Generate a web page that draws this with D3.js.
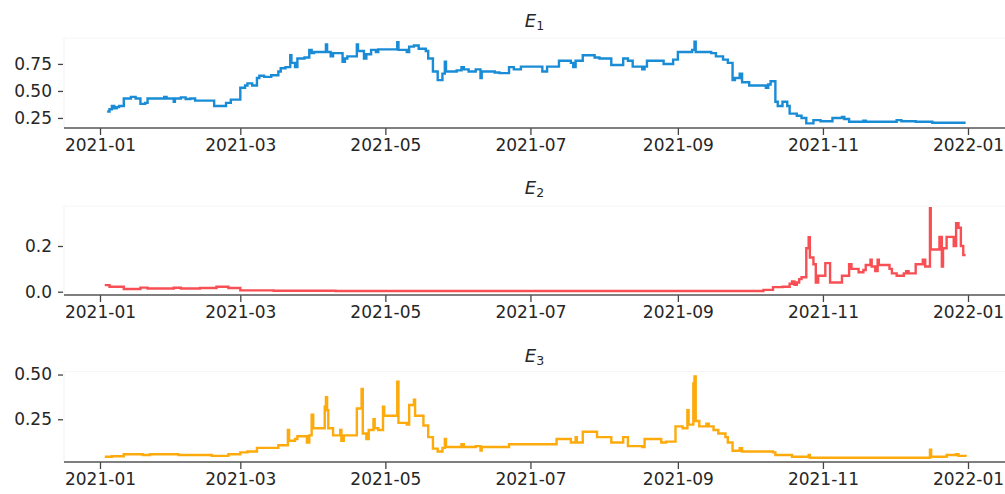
<!DOCTYPE html>
<html>
<head>
<meta charset="utf-8">
<script src="https://cdn.jsdelivr.net/npm/d3@7"></script>
<style>
  html, body { margin: 0; padding: 0; background: #fff; }
  svg { display: block; }
  text { font-family: "DejaVu Sans", sans-serif; fill: #262626; }
</style>
</head>
<body>
<svg id="chart" width="1005" height="494"></svg>
<script>
// Month labels shown along every time axis
const xTickLabels = ["2021-01", "2021-03", "2021-05", "2021-07", "2021-09", "2021-11", "2022-01"];

// E1 : [date (optionally with hour), value]
const e1 = [
  ["2021-01-04",0.31],["2021-01-05",0.33],["2021-01-06",0.36],["2021-01-07",0.34],["2021-01-08",0.35],
  ["2021-01-09",0.36],["2021-01-11",0.43],["2021-01-14",0.445],["2021-01-16",0.43],["2021-01-18",0.38],
  ["2021-01-20",0.39],["2021-01-21",0.43],["2021-01-28",0.445],["2021-01-29",0.43],["2021-02-01",0.40],
  ["2021-02-01 12",0.43],["2021-02-04",0.44],["2021-02-06",0.425],["2021-02-08",0.43],["2021-02-10",0.41],
  ["2021-02-18",0.36],["2021-02-23",0.39],["2021-02-25",0.42],["2021-03-01",0.53],["2021-03-03",0.55],
  ["2021-03-04",0.57],["2021-03-06",0.55],["2021-03-08",0.62],["2021-03-09",0.64],["2021-03-11",0.63],
  ["2021-03-14",0.645],["2021-03-17",0.68],["2021-03-18",0.71],["2021-03-20",0.72],["2021-03-22",0.83],
  ["2021-03-22 12",0.76],["2021-03-24",0.72],["2021-03-25",0.80],["2021-03-28",0.81],["2021-03-30",0.88],
  ["2021-03-31",0.85],["2021-04-01",0.86],["2021-04-06",0.93],["2021-04-06 12",0.86],["2021-04-08",0.82],
  ["2021-04-09",0.85],["2021-04-13",0.77],["2021-04-14",0.80],["2021-04-15",0.82],["2021-04-19",0.93],
  ["2021-04-19 12",0.87],["2021-04-22",0.80],["2021-04-23",0.84],["2021-04-25",0.88],["2021-04-27",0.86],
  ["2021-04-28",0.885],["2021-05-06",0.95],["2021-05-06 12",0.88],["2021-05-10",0.86],["2021-05-11",0.91],
  ["2021-05-13",0.92],["2021-05-15",0.89],["2021-05-18",0.87],["2021-05-19",0.80],["2021-05-21",0.68],
  ["2021-05-23",0.60],["2021-05-25",0.66],["2021-05-26",0.77],["2021-05-26 12",0.68],["2021-05-31",0.69],
  ["2021-06-02",0.72],["2021-06-03",0.70],["2021-06-05",0.68],["2021-06-08",0.70],["2021-06-10",0.62],
  ["2021-06-10 12",0.68],["2021-06-16",0.67],["2021-06-18",0.665],["2021-06-22",0.72],["2021-06-24",0.70],
  ["2021-06-27",0.725],["2021-07-06",0.68],["2021-07-08",0.725],["2021-07-13",0.78],["2021-07-18",0.76],
  ["2021-07-19",0.72],["2021-07-20",0.78],["2021-07-23",0.83],["2021-07-28",0.81],["2021-07-30",0.80],
  ["2021-08-04",0.74],["2021-08-09",0.80],["2021-08-11",0.78],["2021-08-13",0.725],["2021-08-17",0.70],
  ["2021-08-18",0.725],["2021-08-19",0.78],["2021-08-26",0.75],["2021-08-30",0.79],["2021-09-01",0.86],
  ["2021-09-07",0.88],["2021-09-08",0.955],["2021-09-08 12",0.86],["2021-09-15",0.85],["2021-09-17",0.82],
  ["2021-09-20",0.79],["2021-09-22",0.76],["2021-09-24",0.60],["2021-09-25",0.62],["2021-09-27",0.66],
  ["2021-09-28",0.58],["2021-10-01",0.55],["2021-10-08",0.53],["2021-10-09",0.56],["2021-10-10",0.59],
  ["2021-10-12",0.40],["2021-10-13",0.36],["2021-10-15",0.40],["2021-10-17",0.36],["2021-10-18",0.29],
  ["2021-10-21",0.27],["2021-10-23",0.25],["2021-10-25",0.20],["2021-10-28",0.23],["2021-10-31",0.22],
  ["2021-11-05",0.25],["2021-11-09",0.26],["2021-11-10",0.24],["2021-11-12",0.215],["2021-11-18",0.225],
  ["2021-11-19",0.215],["2021-12-02",0.23],["2021-12-04",0.22],["2021-12-10",0.215],["2021-12-17",0.205],
  ["2021-12-31",0.205]
];

// E2 : [date (optionally with hour), value]
const e2 = [
  ["2021-01-03",0.029],["2021-01-05",0.022],["2021-01-11",0.012],["2021-01-18",0.018],["2021-01-21",0.014],
  ["2021-02-01",0.017],["2021-02-04",0.014],["2021-02-12",0.016],["2021-02-19",0.022],["2021-02-24",0.016],
  ["2021-03-01",0.006],["2021-03-15",0.004],["2021-04-10",0.003],["2021-10-07",0.008],["2021-10-11",0.020],
  ["2021-10-15",0.022],["2021-10-18",0.035],["2021-10-19",0.045],["2021-10-20",0.030],["2021-10-21",0.040],
  ["2021-10-22",0.055],["2021-10-23",0.063],["2021-10-25",0.19],["2021-10-26",0.238],["2021-10-26 12",0.15],
  ["2021-10-28",0.12],["2021-10-29",0.04],["2021-10-30",0.07],["2021-11-02",0.125],["2021-11-04",0.04],
  ["2021-11-09",0.07],["2021-11-12",0.12],["2021-11-13",0.10],["2021-11-16",0.085],["2021-11-18",0.095],
  ["2021-11-19",0.117],["2021-11-21",0.14],["2021-11-21 12",0.11],["2021-11-23",0.09],["2021-11-24",0.14],
  ["2021-11-24 12",0.117],["2021-11-29",0.10],["2021-11-30",0.08],["2021-12-02",0.07],["2021-12-05",0.08],
  ["2021-12-06",0.09],["2021-12-07",0.08],["2021-12-10",0.12],["2021-12-13",0.14],["2021-12-14",0.11],
  ["2021-12-16",0.365],["2021-12-16 08",0.185],["2021-12-20",0.24],["2021-12-21",0.11],["2021-12-21 12",0.19],
  ["2021-12-23",0.24],["2021-12-26",0.20],["2021-12-27",0.30],["2021-12-28",0.28],["2021-12-29",0.20],
  ["2021-12-30",0.16],["2021-12-31",0.16]
];

// E3 : [date (optionally with hour), value]
const e3 = [
  ["2021-01-03",0.040],["2021-01-06",0.043],["2021-01-11",0.054],["2021-01-19",0.050],["2021-01-22",0.054],
  ["2021-02-03",0.050],["2021-02-17",0.045],["2021-02-24",0.054],["2021-03-01",0.065],["2021-03-04",0.070],
  ["2021-03-08",0.090],["2021-03-17",0.105],["2021-03-21",0.19],["2021-03-21 12",0.13],["2021-03-24",0.14],
  ["2021-03-25",0.155],["2021-03-29",0.12],["2021-03-30",0.16],["2021-03-31",0.276],["2021-03-31 16",0.20],
  ["2021-04-05 12",0.32],["2021-04-06",0.374],["2021-04-06 12",0.30],["2021-04-07",0.20],["2021-04-09",0.16],
  ["2021-04-12",0.19],["2021-04-12 12",0.13],["2021-04-13 12",0.16],["2021-04-19",0.31],["2021-04-21",0.42],
  ["2021-04-21 12",0.17],["2021-04-23",0.14],["2021-04-24",0.19],["2021-04-26",0.25],["2021-04-26 12",0.20],
  ["2021-04-28",0.19],["2021-04-30",0.32],["2021-04-30 12",0.27],["2021-05-06",0.46],["2021-05-06 12",0.23],
  ["2021-05-10",0.22],["2021-05-11",0.33],["2021-05-13",0.36],["2021-05-13 12",0.27],["2021-05-17",0.215],
  ["2021-05-19",0.15],["2021-05-21",0.086],["2021-05-23",0.070],["2021-05-25",0.090],["2021-05-26",0.14],
  ["2021-05-26 12",0.095],["2021-06-02",0.11],["2021-06-03",0.095],["2021-06-08",0.10],["2021-06-10",0.075],
  ["2021-06-10 12",0.095],["2021-06-22",0.11],["2021-07-12",0.14],["2021-07-18",0.12],["2021-07-20",0.15],
  ["2021-07-20 12",0.12],["2021-07-23",0.18],["2021-07-29",0.15],["2021-08-04",0.12],["2021-08-09",0.15],
  ["2021-08-11",0.10],["2021-08-17",0.095],["2021-08-18",0.14],["2021-08-25",0.12],["2021-08-27",0.125],
  ["2021-08-31",0.21],["2021-09-03",0.20],["2021-09-05",0.30],["2021-09-05 12",0.22],["2021-09-07 12",0.45],
  ["2021-09-08",0.49],["2021-09-08 12",0.24],["2021-09-10",0.21],["2021-09-13",0.225],["2021-09-14",0.21],
  ["2021-09-16",0.19],["2021-09-18",0.17],["2021-09-21",0.15],["2021-09-22",0.12],["2021-09-24",0.074],
  ["2021-09-27",0.088],["2021-09-28",0.070],["2021-10-11",0.065],["2021-10-12",0.050],["2021-10-19",0.040],
  ["2021-10-26",0.050],["2021-10-26 12",0.035],["2021-12-16",0.080],["2021-12-16 12",0.040],["2021-12-23",0.050],
  ["2021-12-27",0.055],["2021-12-28",0.045],["2021-12-31",0.040]
];

const panels = [
  { sub: "1", data: e1, color: "#1a8cd6", yDomain: [0.157, 0.99], yTicks: [0.25, 0.50, 0.75], fmt: ".2f",
    top: 38, bottom: 128, titleY: 26.5 },
  { sub: "2", data: e2, color: "#f84f55", yDomain: [-0.0144, 0.375], yTicks: [0.0, 0.2], fmt: ".1f",
    top: 206, bottom: 295, titleY: 194 },
  { sub: "3", data: e3, color: "#fcaa0c", yDomain: [0.011, 0.517], yTicks: [0.25, 0.50], fmt: ".2f",
    top: 371.5, bottom: 462, titleY: 361.5 }
];

const svg = d3.select("#chart");
const parseDay = d3.utcParse("%Y-%m-%d");
const parseHour = d3.utcParse("%Y-%m-%d %H");
const parse = s => (s.length > 10 ? parseHour(s) : parseDay(s));
const parseMonth = d3.utcParse("%Y-%m");
const plotLeft = 64, plotRight = 1005;

// time scale: 2021-01-01 .. 2022-01-01 sits inside the padded plot frame
const x = d3.scaleUtc()
  .domain([parseDay("2021-01-01"), parseDay("2022-01-01")])
  .range([100, 968]);

const tickDates = xTickLabels.map(parseMonth);

panels.forEach(p => {
  const y = d3.scaleLinear().domain(p.yDomain).range([p.bottom, p.top]);
  const g = svg.append("g");

  // faint frame edges
  g.append("line").attr("x1", plotLeft).attr("x2", plotLeft).attr("y1", p.top).attr("y2", p.bottom)
    .attr("stroke", "#f1f1f1").attr("stroke-width", 1);
  g.append("line").attr("x1", plotLeft).attr("x2", plotRight).attr("y1", p.top).attr("y2", p.top)
    .attr("stroke", "#f6f6f6").attr("stroke-width", 1);

  // series line (stepped)
  const line = d3.line()
    .x(d => x(parse(d[0])))
    .y(d => y(d[1]))
    .curve(d3.curveStepAfter);
  g.append("path")
    .datum(p.data)
    .attr("d", line)
    .attr("fill", "none")
    .attr("stroke", p.color)
    .attr("stroke-width", 2.4)
    .attr("stroke-linejoin", "miter");

  // bottom axis
  const xAxis = d3.axisBottom(x)
    .tickValues(tickDates)
    .tickFormat(d3.utcFormat("%Y-%m"))
    .tickSize(7)
    .tickPadding(4);
  const gx = g.append("g").attr("transform", `translate(0,${p.bottom})`).call(xAxis);
  gx.select(".domain").remove();
  gx.selectAll(".tick line").attr("stroke", "#444").attr("stroke-width", 1.3);
  gx.selectAll(".tick text").attr("font-size", 17).attr("fill", "#262626")
    .attr("font-family", "DejaVu Sans, sans-serif");

  // bottom spine
  g.append("line").attr("x1", plotLeft).attr("x2", plotRight).attr("y1", p.bottom).attr("y2", p.bottom)
    .attr("stroke", "#555").attr("stroke-width", 1.6);

  // left axis (ticks and labels only)
  const yAxis = d3.axisLeft(y)
    .tickValues(p.yTicks)
    .tickFormat(d3.format(p.fmt))
    .tickSize(5)
    .tickPadding(6);
  const gy = g.append("g").attr("transform", `translate(${plotLeft - 1},0)`).call(yAxis);
  gy.select(".domain").remove();
  gy.selectAll(".tick line").attr("stroke", "#444").attr("stroke-width", 1.3);
  gy.selectAll(".tick text").attr("font-size", 17).attr("fill", "#262626")
    .attr("font-family", "DejaVu Sans, sans-serif");

  // panel title E_n
  const t = g.append("text")
    .attr("x", (plotLeft + plotRight) / 2)
    .attr("y", p.titleY)
    .attr("text-anchor", "middle")
    .attr("font-size", 18);
  t.append("tspan").attr("font-style", "italic").text("E");
  t.append("tspan").attr("font-size", 12.5).attr("dy", 3).text(p.sub);
});
</script>
</body>
</html>
